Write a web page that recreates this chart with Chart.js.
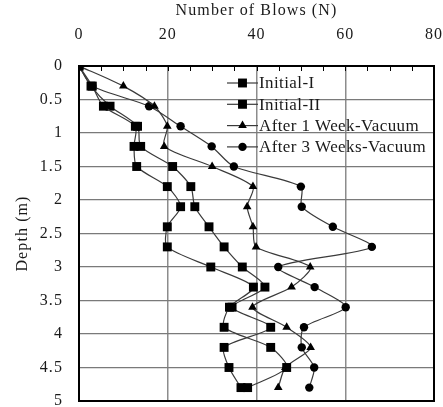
<!DOCTYPE html>
<html>
<head>
<meta charset="utf-8">
<script src="https://cdn.jsdelivr.net/npm/chart.js@4.4.0/dist/chart.umd.min.js"></script>
<style>
  html, body { margin: 0; padding: 0; background: #fff; }
  #wrap { width: 443px; height: 407px; position: relative; }
</style>
</head>
<body>
<div id="wrap"><canvas id="c"></canvas></div>
<script>
// Depth (m) of each reading
const depths = [0, 0.3, 0.6, 0.9, 1.2, 1.5, 1.8, 2.1, 2.4, 2.7, 3.0, 3.3, 3.6, 3.9, 4.2, 4.5, 4.8];
// Number of blows N per series
const initialI   = [0, 3.0, 5.5, 12.7, 12.4, 13.0, 19.9, 22.9, 19.9, 19.9, 29.7, 39.3, 33.9, 32.7, 43.2, 46.8, 38.0];
const initialII  = [0, 2.7, 7.0, 13.2, 13.9, 21.1, 25.2, 26.1, 29.3, 32.7, 36.8, 41.9, 34.5, 43.2, 32.7, 33.8, 36.5];
const week1Vac   = [0, 10.0, 17.0, 19.9, 19.2, 30.0, 39.2, 37.9, 39.2, 39.9, 52.1, 47.9, 39.1, 46.8, 52.2, 46.5, 44.9];
const weeks3Vac  = [0, 3.0, 15.8, 22.9, 29.9, 34.9, 50.0, 50.2, 57.2, 66.0, 44.9, 53.1, 60.1, 50.7, 50.2, 53.0, 51.9];
const seriesLabels = ['Initial-I', 'Initial-II', 'After 1 Week-Vacuum', 'After 3 Weeks-Vacuum'];
const seriesValues = [initialI, initialII, week1Vac, weeks3Vac];
const seriesMarkers = ['rect', 'rect', 'triangle', 'circle'];
const xTicks = [0, 20, 40, 60, 80];
const yTicks = [0, 0.5, 1, 1.5, 2, 2.5, 3, 3.5, 4, 4.5, 5];

const FONT = '"Liberation Serif", "Times New Roman", serif';
const TXT = '#1a1a1a';
const SPACING = '1.1px';
const markerRadius = { rect: 6.3, triangle: 5, circle: 4.2 };

const datasets = seriesValues.map((vals, i) => ({
  label: seriesLabels[i],
  data: vals.map((v, k) => ({ x: v, y: depths[k] })),
  showLine: true,
  tension: 0.25,
  borderColor: '#3a3a3a',
  borderWidth: 1.2,
  backgroundColor: '#000',
  pointBackgroundColor: '#000',
  pointBorderColor: '#000',
  pointBorderWidth: 0,
  pointStyle: seriesMarkers[i],
  pointRadius: markerRadius[seriesMarkers[i]],
  pointHoverRadius: markerRadius[seriesMarkers[i]]
}));

function drawMarker(ctx, style, x, y) {
  const r = markerRadius[style];
  ctx.fillStyle = '#000';
  ctx.beginPath();
  if (style === 'rect') {
    const s = r * Math.SQRT1_2;
    ctx.rect(x - s, y - s, 2 * s, 2 * s);
  } else if (style === 'triangle') {
    ctx.moveTo(x, y - r);
    ctx.lineTo(x + r * Math.sqrt(3) / 2, y + r / 2);
    ctx.lineTo(x - r * Math.sqrt(3) / 2, y + r / 2);
    ctx.closePath();
  } else {
    ctx.arc(x, y, r, 0, Math.PI * 2);
  }
  ctx.fill();
}

const spacingPlugin = {
  id: 'spacing',
  beforeLayout(chart) { chart.ctx.letterSpacing = SPACING; },
  beforeDraw(chart) { chart.ctx.letterSpacing = SPACING; }
};

const framePlugin = {
  id: 'frame',
  afterDraw(chart) {
    const { ctx, chartArea: a, scales } = chart;
    ctx.save();
    ctx.strokeStyle = '#000';
    ctx.lineWidth = 1;
    for (let v = 0; v <= 80; v += 5) {
      const px = Math.round(scales.x.getPixelForValue(v)) + 0.5;
      ctx.beginPath();
      ctx.moveTo(px, a.top);
      ctx.lineTo(px, a.top + 5);
      ctx.stroke();
    }
    ctx.lineWidth = 2;
    ctx.strokeRect(a.left, a.top, a.right - a.left, a.bottom - a.top);
    const lx0 = a.left + 148, lx1 = a.left + 179, tx = a.left + 180;
    ctx.font = '17px ' + FONT;
    ctx.letterSpacing = '0.4px';
    ctx.textBaseline = 'middle';
    ctx.textAlign = 'left';
    seriesLabels.forEach((lab, i) => {
      const y = a.top + 17 + i * 21.3;
      ctx.strokeStyle = '#3a3a3a';
      ctx.lineWidth = 1.2;
      ctx.beginPath();
      ctx.moveTo(lx0, y);
      ctx.lineTo(lx1, y);
      ctx.stroke();
      drawMarker(ctx, seriesMarkers[i], (lx0 + lx1) / 2, y);
      ctx.fillStyle = TXT;
      ctx.fillText(lab, tx, y + 1);
    });
    ctx.restore();
  }
};

new Chart(document.getElementById('c'), {
  type: 'scatter',
  data: { datasets },
  options: {
    responsive: true,
    maintainAspectRatio: false,
    animation: false,
    layout: { autoPadding: false, padding: { left: 4, right: 9, top: 0, bottom: 6 } },
    plugins: { legend: { display: false }, tooltip: { enabled: false } },
    scales: {
      x: {
        type: 'linear',
        position: 'top',
        min: 0, max: 80,
        afterBuildTicks: (s) => { s.ticks = xTicks.map(v => ({ value: v })); },
        afterFit: (s) => { s.height = 66; s.paddingLeft = 0; s.paddingRight = 0; },
        ticks: { color: TXT, font: { family: FONT, size: 16 }, padding: 22, maxRotation: 0, callback: (v) => String(v) },
        grid: {
          drawTicks: false,
          color: (c) => (c.tick && (c.tick.value === 0 || c.tick.value === 80)) ? 'rgba(0,0,0,0)' : '#8c8c8c',
          lineWidth: 1.5
        },
        border: { display: false },
        title: { display: true, text: 'Number of Blows (N)', color: TXT, font: { family: FONT, size: 16 }, padding: { top: 1, bottom: 0 } }
      },
      y: {
        type: 'linear',
        reverse: true,
        min: 0, max: 5,
        afterBuildTicks: (s) => { s.ticks = yTicks.map(v => ({ value: v })); },
        afterFit: (s) => { s.width = 75; s.paddingTop = 0; s.paddingBottom = 0; },
        ticks: { color: TXT, font: { family: FONT, size: 16 }, padding: 16, callback: (v) => String(v) },
        grid: {
          drawTicks: false,
          color: (c) => (c.tick && (c.tick.value === 0 || c.tick.value === 5)) ? 'rgba(0,0,0,0)' : '#7a7a7a',
          lineWidth: 1.2
        },
        border: { display: false },
        title: { display: true, text: 'Depth (m)', color: TXT, font: { family: FONT, size: 16 }, padding: { top: 9, bottom: 0 } }
      }
    }
  },
  plugins: [spacingPlugin, framePlugin]
});
</script>
</body>
</html>
